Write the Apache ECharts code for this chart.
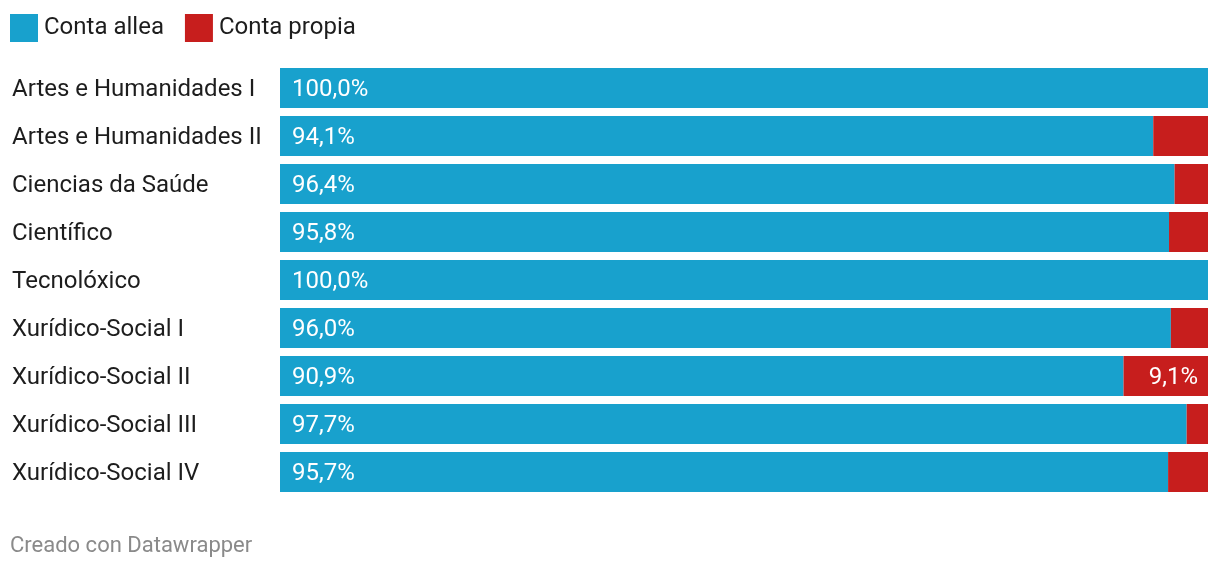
<!DOCTYPE html>
<html>
<head>
<meta charset="utf-8">
<script src="https://cdn.jsdelivr.net/npm/echarts@6/dist/echarts.min.js"></script>
<style>
html,body{margin:0;padding:0;background:#fff;}
#chart{width:1220px;height:570px;}
</style>
</head>
<body>
<div id="chart"></div>
<script>
const categories = [
  "Artes e Humanidades I",
  "Artes e Humanidades II",
  "Ciencias da Saúde",
  "Científico",
  "Tecnolóxico",
  "Xurídico-Social I",
  "Xurídico-Social II",
  "Xurídico-Social III",
  "Xurídico-Social IV"
];
const contaAllea = [100.0, 94.1, 96.4, 95.8, 100.0, 96.0, 90.9, 97.7, 95.7];
const contaPropia = [0.0, 5.9, 3.6, 4.2, 0.0, 4.0, 9.1, 2.3, 4.3];
const seriesNames = ["Conta allea", "Conta propia"];
const colors = ["#18a1cd", "#c71e1d"];

const fmt = v => v.toFixed(1).replace('.', ',') + '%';
const font = 'Roboto, sans-serif';

const chart = echarts.init(document.getElementById('chart'), null, {renderer: 'canvas'});
chart.setOption({
  animation: false,
  textStyle: {fontFamily: font},
  legend: {
    left: 10, top: 14,
    padding: 0,
    icon: 'rect',
    itemWidth: 28, itemHeight: 28,
    itemGap: 21,
    textStyle: {fontSize: 24, color: '#1d1d1d', fontFamily: font, padding: [0, 0, 0, 1]},
    data: seriesNames
  },
  grid: {left: 280, right: 12, top: 64, height: 432, containLabel: false},
  xAxis: {
    type: 'value', min: 0, max: 100, show: false
  },
  yAxis: {
    type: 'category',
    data: categories,
    inverse: true,
    axisLine: {show: false},
    axisTick: {show: false},
    splitLine: {show: false},
    axisLabel: {
      align: 'left',
      margin: 268,
      fontSize: 24,
      color: '#1d1d1d',
      fontFamily: font,
      formatter: v => '{a|' + v + '}',
      rich: {
        a: {fontSize: 24, color: '#1d1d1d', fontFamily: font, lineHeight: 28, padding: [4, 0, 0, 0]}
      }
    }
  },
  series: [
    {
      name: seriesNames[0],
      type: 'bar',
      stack: 'total',
      barWidth: 40,
      itemStyle: {color: colors[0]},
      label: {
        show: true,
        position: 'insideLeft',
        distance: 12,
        color: '#fff',
        fontSize: 24,
        fontFamily: font,
        offset: [0, 2],
        formatter: p => fmt(p.value)
      },
      data: contaAllea
    },
    {
      name: seriesNames[1],
      type: 'bar',
      stack: 'total',
      barWidth: 40,
      itemStyle: {color: colors[1]},
      label: {
        show: true,
        position: 'insideRight',
        distance: 10,
        color: '#fff',
        fontSize: 24,
        fontFamily: font,
        offset: [0, 2],
        formatter: p => p.value >= 7 ? fmt(p.value) : ''
      },
      data: contaPropia
    }
  ],
  graphic: [{
    type: 'text',
    left: 10, top: 535,
    style: {text: 'Creado con Datawrapper', fill: '#8a8a8a', font: '22px Roboto, sans-serif'}
  }]
});
</script>
</body>
</html>
